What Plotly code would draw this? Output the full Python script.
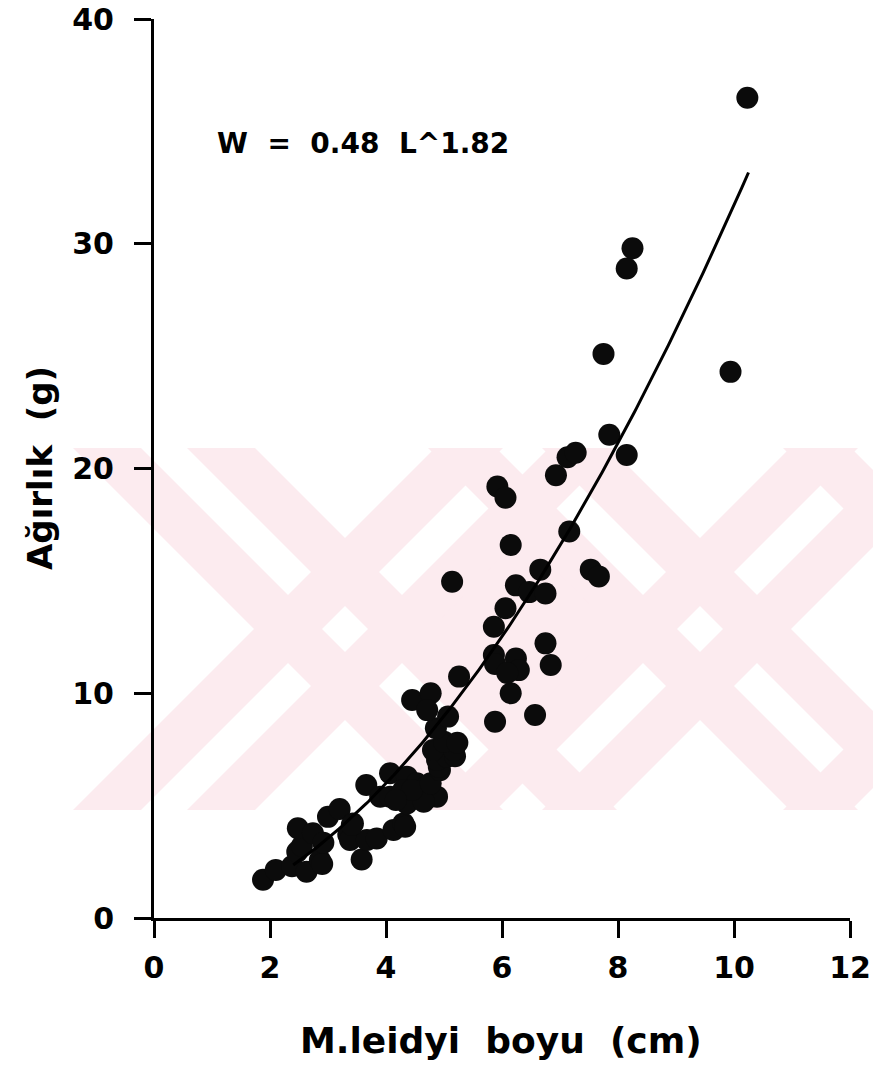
import numpy as np
import plotly.graph_objects as go

# Body length (cm) and wet weight (g) of Mnemiopsis leidyi specimens
length_cm = [
    1.88, 2.10, 2.38, 2.47, 2.55, 2.63, 2.86, 2.90, 2.48, 2.74,
    2.92, 3.00, 3.20, 3.35, 3.43, 3.38, 3.58, 3.67, 3.84, 4.13,
    4.30, 3.66, 4.07, 3.90, 4.07, 4.24, 4.53, 4.76, 4.88, 4.36,
    4.53, 4.70, 4.30, 4.36, 4.65, 4.45, 4.77, 4.17, 4.93, 4.91,
    4.88, 5.05, 5.19, 4.81, 5.17, 5.00, 5.23, 4.86, 5.07, 4.45,
    4.77, 4.71, 5.26, 5.14, 5.88, 6.57, 6.15, 5.86, 5.88, 6.24,
    6.29, 6.09, 6.84, 6.75, 5.86, 6.06, 6.24, 6.47, 6.75, 6.66,
    7.53, 7.67, 6.15, 7.16, 5.92, 6.06, 6.93, 7.13, 7.27, 7.85,
    8.15, 7.75, 9.94, 8.15, 8.25, 10.23, 3.41, 4.33,
]
weight_g = [
    1.70, 2.14, 2.30, 2.95, 3.20, 2.06, 2.58, 2.40, 3.99, 3.77,
    3.35, 4.50, 4.85, 3.70, 4.20, 3.47, 2.60, 3.47, 3.54, 3.92,
    4.21, 5.92, 6.44, 5.40, 5.40, 5.40, 5.40, 5.40, 5.40, 6.29,
    5.99, 5.84, 5.70, 5.10, 5.17, 5.70, 5.99, 5.25, 6.58, 6.73,
    7.03, 7.18, 7.20, 7.47, 7.47, 7.84, 7.80, 8.44, 8.96, 9.70,
    10.00, 9.25, 10.74, 14.96, 8.73, 9.03, 10.00, 11.70, 11.30, 11.55,
    11.03, 10.90, 11.26, 12.22, 12.96, 13.78, 14.80, 14.50, 14.44, 15.50,
    15.50, 15.20, 16.60, 17.20, 19.20, 18.70, 19.70, 20.50, 20.70, 21.50,
    20.60, 25.10, 24.30, 28.90, 29.80, 36.50, 4.14, 4.06,
]

# Length-weight relationship W = a * L^b
coef_a = 0.48
coef_b = 1.82
fit_start, fit_end = 2.4, 10.25

x_ticks = [0, 2, 4, 6, 8, 10, 12]
y_ticks = [0, 10, 20, 30, 40]

equation_text = "W  =  0.48  L^1.82"
x_title = "M.leidyi  boyu  (cm)"
y_title = "Ağırlık  (g)"

# Page geometry (pixels)
W_PX, H_PX = 873, 1072
M_L, M_R, M_T, M_B = 154, 23, 19, 154
PLOT_W = W_PX - M_L - M_R
PLOT_H = H_PX - M_T - M_B

FONT = "DejaVu Sans"
INK = "#000000"


def px_to_paper(px, py):
    return (px - M_L) / PLOT_W, (H_PX - M_B - py) / PLOT_H


def poly_path(points):
    coords = [px_to_paper(x, y) for x, y in points]
    return "M " + " L ".join(f"{a:.5f},{b:.5f}" for a, b in coords) + " Z"


# Background watermark: pale pink crossing double stripes
PINK = "#fcebef"
BAND_TOP, BAND_BOT = 448, 810
BAND_H = BAND_BOT - BAND_TOP
STRIPE_W, STRIPE_GAP = 68, 46
back_arm_tops = [164, 519, 874]     # "\" arms, centre at top edge
fwd_arm_tops = [526, 881, 1236]     # "/" arms, centre at top edge


def stripe_points(x_top_left, direction):
    shift = BAND_H * direction
    return [
        (x_top_left, BAND_TOP),
        (x_top_left + STRIPE_W, BAND_TOP),
        (x_top_left + STRIPE_W + shift, BAND_BOT),
        (x_top_left + shift, BAND_BOT),
    ]


shapes = []
off = STRIPE_GAP / 2 + STRIPE_W / 2
for centres, direction in ((back_arm_tops, 1), (fwd_arm_tops, -1)):
    for c in centres:
        for sgn in (-1, 1):
            left = c + sgn * off - STRIPE_W / 2
            shapes.append(dict(
                type="path", xref="paper", yref="paper", layer="below",
                path=poly_path(stripe_points(left, direction)),
                fillcolor=PINK, line=dict(width=0),
            ))

# solid patch where the two crosses meet in the middle
shapes.append(dict(
    type="path", xref="paper", yref="paper", layer="below",
    path=poly_path([(430, 630), (522, 536), (615, 630), (522, 722)]),
    fillcolor=PINK, line=dict(width=0),
))

fig = go.Figure()

fig.add_trace(go.Scatter(
    x=length_cm, y=weight_g, mode="markers",
    marker=dict(size=22, color="#0b0b0b", line=dict(width=0)),
    showlegend=False, cliponaxis=False,
))

fit_x = np.linspace(fit_start, fit_end, 200)
fit_y = coef_a * fit_x ** coef_b
fig.add_trace(go.Scatter(
    x=fit_x, y=fit_y, mode="lines",
    line=dict(color=INK, width=3),
    showlegend=False,
))

tick_font = dict(family=FONT, size=30, color=INK, weight="bold")

fig.update_xaxes(
    range=[0, 12], tickvals=x_ticks, ticktext=[str(v) for v in x_ticks],
    showline=True, linecolor=INK, linewidth=3,
    ticks="outside", ticklen=17, tickwidth=2.5, tickcolor=INK,
    tickfont=tick_font, ticklabelstandoff=4,
    showgrid=False, zeroline=False,
)
fig.update_yaxes(
    range=[0, 40], tickvals=y_ticks, ticktext=[str(v) for v in y_ticks],
    showline=True, linecolor=INK, linewidth=3,
    ticks="outside", ticklen=17, tickwidth=2.5, tickcolor=INK,
    tickfont=tick_font, ticklabelstandoff=14,
    showgrid=False, zeroline=False,
)

xt_x, xt_y = px_to_paper(501, 1040)
yt_x, yt_y = px_to_paper(40, 468)

fig.update_layout(
    width=W_PX, height=H_PX,
    margin=dict(l=M_L, r=M_R, t=M_T, b=M_B, autoexpand=False),
    paper_bgcolor="white", plot_bgcolor="rgba(0,0,0,0)",
    shapes=shapes,
    annotations=[
        dict(x=1.05, y=34.45, xref="x", yref="y", text=equation_text,
             showarrow=False, xanchor="left", yanchor="middle",
             font=dict(family=FONT, size=28, color=INK, weight="bold")),
        dict(x=xt_x, y=xt_y, xref="paper", yref="paper", text=x_title,
             showarrow=False, xanchor="center", yanchor="middle",
             font=dict(family=FONT, size=36, color=INK, weight="bold")),
        dict(x=yt_x, y=yt_y, xref="paper", yref="paper", text=y_title,
             textangle=-90, showarrow=False, xanchor="center", yanchor="middle",
             font=dict(family=FONT, size=34, color=INK, weight="bold")),
    ],
)

fig.write_html("out.html")
